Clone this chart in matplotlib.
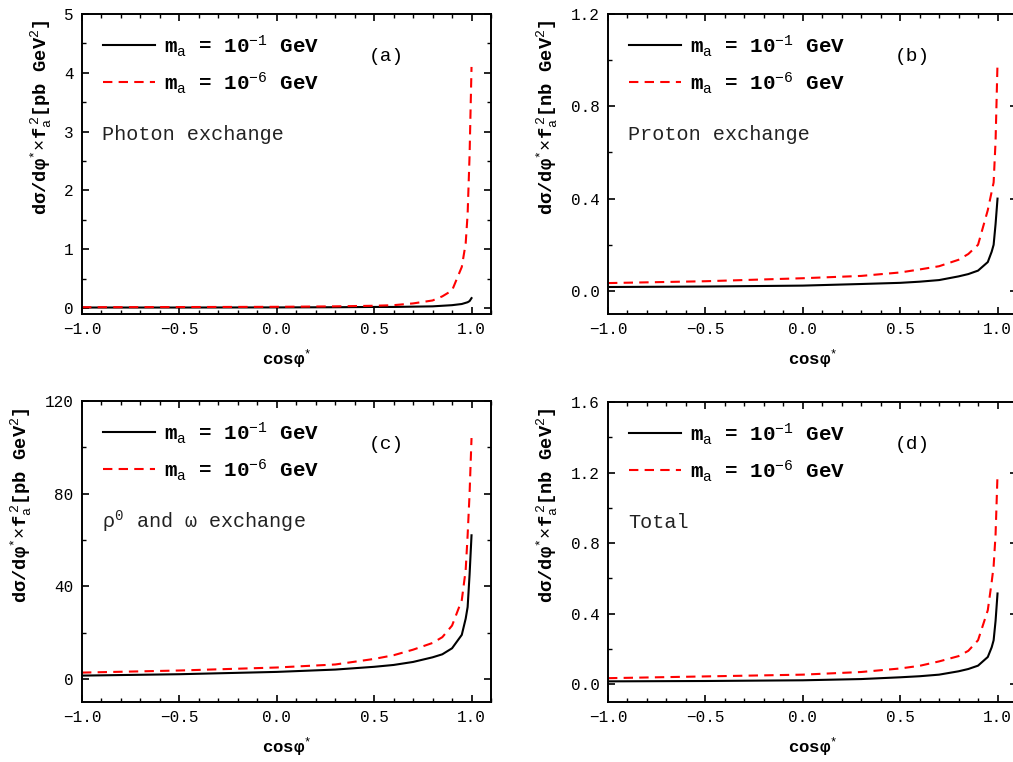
import numpy as np
import matplotlib
matplotlib.use("Agg")
from matplotlib import pyplot as plt
from matplotlib.ticker import MultipleLocator

plt.rcParams['font.family'] = ['Liberation Mono', 'DejaVu Sans Mono']
plt.rcParams['mathtext.fontset'] = 'custom'
plt.rcParams['mathtext.rm'] = 'Liberation Mono'
plt.rcParams['mathtext.it'] = 'Liberation Mono'
plt.rcParams['mathtext.bf'] = 'Liberation Mono:bold'

# cos(phi*) grid
cos_phi = [-1.0, -0.5, 0.0, 0.3, 0.5, 0.6, 0.7, 0.8, 0.85, 0.9, 0.95, 0.97, 0.98, 0.99, 1.0]

# (a) photon exchange [pb GeV^2]
photon_m1 = [0.01, 0.01, 0.012, 0.015, 0.02, 0.02, 0.025, 0.03, 0.04, 0.05, 0.07, 0.09, 0.1, 0.12, 0.17]
photon_m6 = [0.015, 0.018, 0.022, 0.03, 0.04, 0.05, 0.08, 0.13, 0.2, 0.3, 0.7, 1.1, 1.6, 2.6, 4.1]
# (b) proton exchange [nb GeV^2]
proton_m1 = [0.017, 0.019, 0.023, 0.03, 0.035, 0.04, 0.047, 0.063, 0.073, 0.088, 0.125, 0.17, 0.2, 0.29, 0.4]
proton_m6 = [0.034, 0.042, 0.055, 0.065, 0.08, 0.093, 0.107, 0.135, 0.16, 0.2, 0.35, 0.43, 0.47, 0.65, 0.99]
# (c) rho0 and omega exchange [pb GeV^2]
rho_m1 = [1.4, 2.0, 3.0, 4.0, 5.2, 6.0, 7.3, 9.3, 10.6, 13.2, 19.0, 26.0, 31.0, 45.0, 62.0]
rho_m6 = [2.7, 3.6, 4.9, 6.2, 8.6, 10.2, 12.6, 15.5, 18.0, 23.0, 34.0, 47.0, 62.0, 80.0, 104.0]
# (d) total [nb GeV^2]
total_m1 = [0.017, 0.019, 0.023, 0.03, 0.04, 0.046, 0.055, 0.074, 0.087, 0.106, 0.155, 0.21, 0.25, 0.36, 0.515]
total_m6 = [0.035, 0.045, 0.055, 0.07, 0.09, 0.105, 0.13, 0.16, 0.19, 0.25, 0.42, 0.58, 0.67, 0.85, 1.19]

panels = [
    ("(a)", "Photon exchange", "pb", photon_m1, photon_m6, (-0.1, 5), 1, 0.5, -0.10),
    ("(b)", "Proton exchange", "nb", proton_m1, proton_m6, (-0.1, 1.2), 0.4, 0.2, -0.149),
    ("(c)", r"$\rho^{0}$ and $\omega$ exchange", "pb", rho_m1, rho_m6, (-10, 120), 40, 20, -0.147),
    ("(d)", "Total", "nb", total_m1, total_m6, (-0.1, 1.6), 0.4, 0.2, -0.149),
]

W, H = 1013, 762
boxes = [(82, 14, 409, 300), (608, 14, 409, 300), (82, 401, 409, 301), (608, 402, 409, 300)]

fig = plt.figure(figsize=(W / 100, H / 100), dpi=100)

for (tag, title, unit, y1, y6, ylim, ymaj, ymin, labx), (px, py, pw, ph) in zip(panels, boxes):
    ax = fig.add_axes([px / W, (H - py - ph) / H, pw / W, ph / H])
    ax.plot(cos_phi, y1, color='black', lw=1.5, label=r'm$_{\rm a}$ = 10$^{-1}$ GeV')
    ax.plot(cos_phi, y6, color='red', lw=1.5, dashes=(4.5, 3), label=r'm$_{\rm a}$ = 10$^{-6}$ GeV')
    ax.set_xlim(-1.0, 1.1)
    ax.set_ylim(*ylim)
    ax.xaxis.set_major_locator(MultipleLocator(0.5))
    ax.xaxis.set_minor_locator(MultipleLocator(0.1))
    ax.yaxis.set_major_locator(MultipleLocator(ymaj))
    ax.yaxis.set_minor_locator(MultipleLocator(ymin))
    ax.xaxis.set_major_formatter(lambda v, p: f"{v:.1f}".replace('-', '\u2212'))
    if tag in ("(a)", "(c)"):
        ax.yaxis.set_major_formatter(lambda v, p: f"{v:g}")
    else:
        ax.yaxis.set_major_formatter(lambda v, p: f"{v:.1f}")
    ax.tick_params(which='both', direction='in', top=True, right=True, labelsize=11.5,
                   colors='black', pad=6)
    ax.tick_params(which='major', length=5, width=1.2)
    ax.tick_params(which='minor', length=3, width=1.0)
    for s in ax.spines.values():
        s.set_linewidth(1.4)
    ax.set_xlabel(r'cos$\mathbf{\varphi}^{*}$', fontsize=12.5, fontweight='bold', labelpad=7)
    ax.set_ylabel(r'd$\mathbf{\sigma}$/d$\mathbf{\varphi}^{*}$$\times$f$_{\rm a}^{\ 2}$[' + unit + r' GeV$^{2}$]',
                  fontsize=13.5, fontweight='bold', va='center')
    ax.yaxis.set_label_coords(labx, 0.655)
    ax.legend(loc='upper left', frameon=False, prop={'size': 15, 'weight': 'bold'},
              handlelength=2.5, handletextpad=0.45, borderaxespad=0.35, labelspacing=0.55,
              bbox_to_anchor=(0.012, 0.99))
    ax.text(0.745, 0.857, tag, transform=ax.transAxes, fontsize=14, ha='center', va='center')
    ax.text(0.049, 0.60, title, transform=ax.transAxes, fontsize=14.5, ha='left', va='center',
            color='#222222')

fig.savefig("out.png", dpi=100)
